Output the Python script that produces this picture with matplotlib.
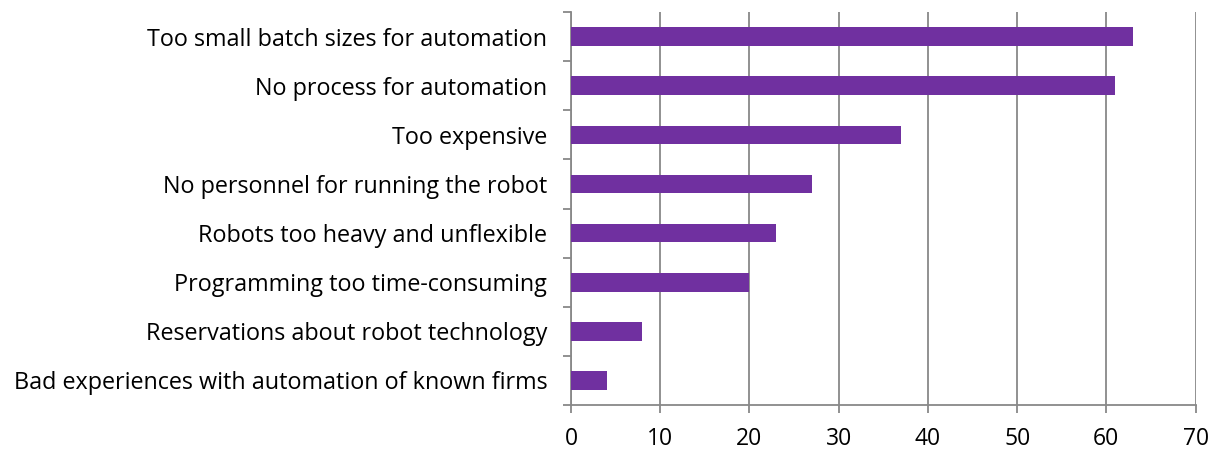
import matplotlib
matplotlib.use("Agg")
import matplotlib.pyplot as plt

categories = [
    "Too small batch sizes for automation",
    "No process for automation",
    "Too expensive",
    "No personnel for running the robot",
    "Robots too heavy and unflexible",
    "Programming too time-consuming",
    "Reservations about robot technology",
    "Bad experiences with automation of known firms",
]
values = [63, 61, 37, 27, 23, 20, 8, 4]
xticks = [0, 10, 20, 30, 40, 50, 60, 70]

plt.rcParams['font.family'] = ['Open Sans', 'DejaVu Sans']
fig = plt.figure(figsize=(12.2, 4.5), dpi=100)
ax = fig.add_axes([0.468, 0.1, 0.512, 0.873])

n = len(categories)
pos = list(range(n))[::-1]
ax.barh(pos, values, height=0.38, color="#7030A0", zorder=3)

ax.set_xlim(0, 70)
ax.set_ylim(-0.5, n - 0.5)
ax.set_xticks(xticks)
ax.set_xticklabels([str(t) for t in xticks], fontsize=16.5)
ax.set_yticks([p for p in pos])
ax.set_yticklabels(categories, fontsize=16.8)
# y ticks between categories
ax.set_yticks([i - 0.5 for i in range(n + 1)], minor=True)
ax.tick_params(axis='y', which='major', length=0, pad=17)
ax.tick_params(axis='y', which='minor', length=6, color="#888888", width=1.3)
ax.tick_params(axis='x', length=6, color="#888888", width=1.3, pad=10)

ax.grid(axis='x', color="#888888", linewidth=1.3, zorder=0)
for s in ['top', 'right']:
    ax.spines[s].set_visible(False)
for s in ['left', 'bottom']:
    ax.spines[s].set_color("#888888")
    ax.spines[s].set_linewidth(1.3)

fig.savefig("out.png", dpi=100)
